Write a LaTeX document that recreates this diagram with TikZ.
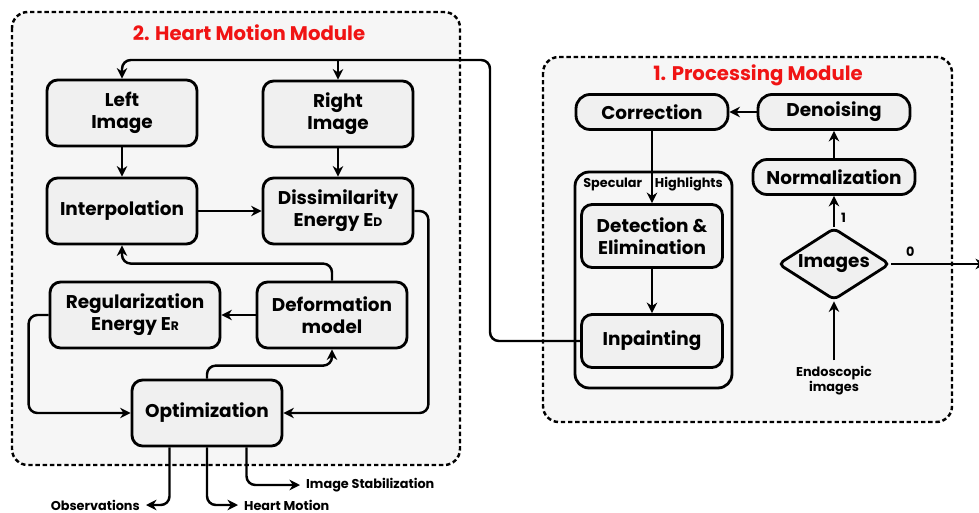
\documentclass[tikz,border=0pt]{standalone}
\usepackage{fontspec}
\setmainfont{Poppins}
\usetikzlibrary{shapes.geometric,arrows.meta}
\definecolor{boxgray}{RGB}{240,240,240}
\definecolor{modgray}{RGB}{246,246,246}
\definecolor{titlered}{RGB}{240,20,20}

\begin{document}
\begin{tikzpicture}[x=0.02cm,y=-0.02cm,
    blk/.style={draw=black,line width=1.6pt,rounded corners=6pt,fill=boxgray,align=center,font=\bfseries\fontsize{10.5}{12.5}\selectfont},
    big/.style={blk,minimum width=3cm,minimum height=1.32cm},
    flat/.style={blk,minimum width=3.04cm,minimum height=0.7cm,rounded corners=8pt},
    module/.style={draw=black,line width=1.4pt,dash pattern=on 2.5pt off 1.6pt,rounded corners=9pt,fill=modgray},
    title/.style={text=titlered,font=\bfseries\fontsize{11.2}{13}\selectfont},
    small/.style={font=\bfseries\fontsize{7.3}{8.5}\selectfont,align=center},
    link/.style={line width=1.4pt,rounded corners=5pt,-{Stealth[length=6pt,width=6pt]}}]
    \useasboundingbox (0,0) rectangle (979,513);

    % Heart Motion Module
    \draw[module] (12,12) rectangle (460,465);
    \node[title] (t2) at (249,33) {2. Heart Motion Module};

    \node[big] (left) at (122,113) {Left\\Image};
    \node[big] (right) at (338,114) {Right\\Image};
    \node[big] (interp) at (122,211) {Interpolation};
    \node[big] (dis) at (338,211) {Dissimilarity\\Energy E{\scriptsize D}};
    \node[big,minimum width=3.4cm] (reg) at (135,315) {Regularization\\Energy E{\scriptsize R}};
    \node[big] (def) at (332,315) {Deformation\\model};
    \node[big] (opt) at (207,413) {Optimization};

    \draw[link] (left) -- (interp);
    \draw[link] (right) -- (dis);
    \draw[link] (interp) -- (dis);
    \draw[link] (dis.east) -- ++(14,0) |- (opt.east);
    \draw[link] (def.north) -- ++(0,-17) -| (interp.south);
    \draw[link] (def) -- (reg);
    \draw[link] (reg.west) -- ++(-20,0) |- (opt.west);
    \draw[link] (opt.north) -- ++(0,-13) -| (def.south);

    % outputs
    \node[small,anchor=east] (obs) at (146,505) {Observations};
    \node[small,anchor=west] (hm) at (238,505) {Heart Motion};
    \node[small,anchor=west] (stab) at (300,485) {Image Stabilization};
    \draw[link] ([xshift=-0.75cm]opt.south) |- (obs.east);
    \draw[link] (opt.south) |- (hm.west);
    \draw[link] ([xshift=0.79cm]opt.south) |- (stab.west);

    % Processing Module
    \draw[module] (543,57) rectangle (952,422);
    \node[title] (t1) at (758,75) {1. Processing Module};

    \node[flat] (corr) at (652,112) {Correction};
    \node[flat] (den) at (834,112) {Denoising};
    \node[flat,minimum width=3.24cm] (norm) at (834,177) {Normalization};
    \node[blk,diamond,aspect=1.55,minimum width=2.24cm,minimum height=1.44cm,inner sep=0pt,rounded corners=3pt] (img) at (834,264) {Images};
    \node[small] (endo) at (834,381) {Endoscopic\\images};
    \coordinate (exit) at (986,264);

    \node[blk,fill=none,minimum width=3.14cm,minimum height=4.32cm,rounded corners=8pt] (spec) at (653.5,280) {};
    \node[small] (spect) at (653,184) {Specular\quad Highlights};
    \node[blk,minimum width=2.82cm,minimum height=1.26cm] (det) at (652,236) {Detection \&\\Elimination};
    \node[blk,minimum width=2.82cm,minimum height=1.06cm] (inp) at (652,341) {Inpainting};

    \draw[link] (den) -- (corr);
    \draw[link] (norm) -- (den);
    \draw[link] (img) -- node[small,right,pos=0.3] {1} (norm);
    \draw[link] (img.east) -- node[small,above,pos=0.2] {0} (exit);
    \draw[link] (endo) -- (img);
    \draw[link] (corr) -- (det);
    \draw[link] (det) -- (inp);

    % back to the stereo pair
    \coordinate (top) at (490,60);
    \draw[link] (inp.west) -| (top) -| (left.north);
    \draw[link] (right.north |- top) -- (right.north);
\end{tikzpicture}
\end{document}
